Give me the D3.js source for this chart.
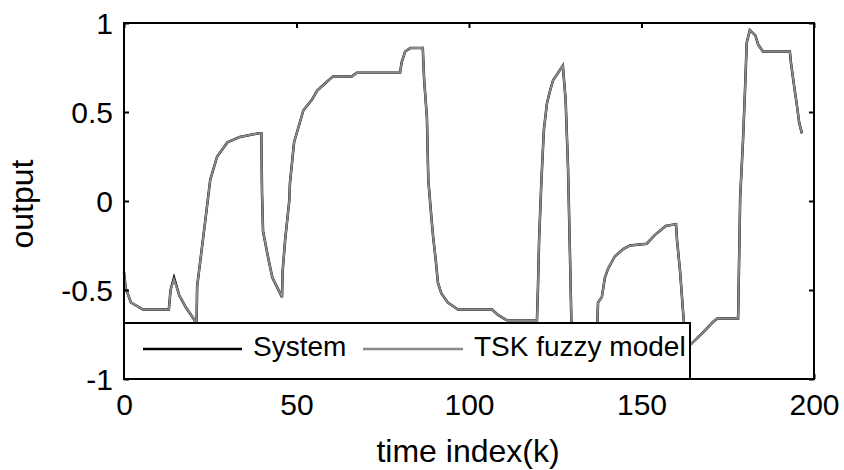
<!DOCTYPE html>
<html>
<head>
<meta charset="utf-8">
<script src="https://cdn.jsdelivr.net/npm/d3@7"></script>
<style>
  body { margin: 0; background: #fff; }
  text { font-family: "Liberation Sans", Arial, sans-serif; fill: #000; }
</style>
</head>
<body>
<div id="graph"></div>
<script>
// time index of the points
var timeK = [0, 0.5, 2, 5.5, 13, 13.5, 14.5, 16, 18, 20.5, 21, 21.2, 23.5, 25, 27, 30, 33.6, 39, 39.8,
  40, 40.3, 41.8, 43, 45.8, 46, 46.7, 47.9, 48.1, 49.3, 50.5, 52, 54.5, 56, 58.8, 60.6, 66, 67.5,
  80, 80.5, 81.5, 83, 86.6, 87, 87.8, 88.2, 89, 89.6, 90.4, 91, 92, 93.8, 96.8, 106.7, 108.4, 111,
  119.7, 120, 120.3, 121, 121.7, 122.6, 123.5, 124.4, 125.8, 127.2, 128, 128.7, 129.3, 129.8, 137,
  137.4, 138.5, 139.4, 140.3, 142.3, 144.7, 146.7, 151.5, 153.9, 157, 160, 160.3, 161.2, 162, 163,
  164, 167.8, 170.7, 172, 178, 178.6, 179.4, 180, 180.5, 181.4, 183, 183.8, 185.2, 188.7, 193,
  193.3, 194, 194.5, 195.1, 195.7, 196.5];

// System output
var systemOut = [-0.40, -0.49, -0.57, -0.61, -0.61, -0.50, -0.43, -0.53, -0.60, -0.67, -0.72, -0.48,
  -0.12, 0.12, 0.25, 0.33, 0.36, 0.38, 0.38, 0.05, -0.17, -0.32, -0.43, -0.54, -0.39, -0.22, 0.00,
  0.10, 0.33, 0.41, 0.51, 0.57, 0.62, 0.67, 0.70, 0.70, 0.72, 0.72, 0.78, 0.84, 0.86, 0.86, 0.68,
  0.47, 0.12, -0.07, -0.20, -0.34, -0.46, -0.52, -0.57, -0.61, -0.61, -0.64, -0.67, -0.67, -0.48,
  -0.23, 0.12, 0.40, 0.55, 0.62, 0.68, 0.72, 0.76, 0.57, 0.19, -0.33, -0.80, -0.80, -0.57, -0.54,
  -0.43, -0.38, -0.31, -0.27, -0.25, -0.24, -0.19, -0.14, -0.13, -0.22, -0.40, -0.61, -0.85, -0.81,
  -0.74, -0.68, -0.66, -0.66, 0.02, 0.33, 0.62, 0.89, 0.96, 0.93, 0.88, 0.84, 0.84, 0.84, 0.78,
  0.68, 0.61, 0.53, 0.44, 0.38];

// TSK fuzzy model output
var modelOut = [-0.40, -0.49, -0.57, -0.61, -0.61, -0.50, -0.44, -0.53, -0.60, -0.67, -0.72, -0.48,
  -0.12, 0.12, 0.25, 0.33, 0.36, 0.38, 0.38, 0.05, -0.17, -0.32, -0.43, -0.54, -0.39, -0.22, 0.00,
  0.10, 0.33, 0.41, 0.51, 0.57, 0.62, 0.67, 0.70, 0.70, 0.72, 0.72, 0.78, 0.84, 0.86, 0.86, 0.68,
  0.47, 0.12, -0.07, -0.20, -0.34, -0.46, -0.52, -0.57, -0.61, -0.61, -0.64, -0.67, -0.67, -0.48,
  -0.23, 0.12, 0.40, 0.55, 0.62, 0.68, 0.72, 0.76, 0.57, 0.19, -0.33, -0.80, -0.80, -0.57, -0.54,
  -0.43, -0.38, -0.31, -0.27, -0.25, -0.24, -0.19, -0.14, -0.13, -0.22, -0.40, -0.61, -0.85, -0.81,
  -0.74, -0.68, -0.66, -0.66, 0.02, 0.33, 0.62, 0.89, 0.96, 0.93, 0.88, 0.84, 0.84, 0.84, 0.78,
  0.68, 0.61, 0.53, 0.44, 0.38];

var xTicks = [0, 50, 100, 150, 200];
var yTicks = [-1, -0.5, 0, 0.5, 1];
var legendNames = ["System", "TSK fuzzy model"];

function render() {
  var width = 844, height = 470;
  // plot box in pixels (names avoid window.top)
  var pL = 124, pR = 814, pT = 23, pB = 379;

  var svg = d3.select("#graph").append("svg")
    .attr("width", width)
    .attr("height", height);

  var x = d3.scaleLinear().domain([0, 200]).range([pL, pR]);
  var y = d3.scaleLinear().domain([-1, 1]).range([pB, pT]);

  var line = d3.line()
    .x(function(d) { return x(d[0]); })
    .y(function(d) { return y(d[1]); });

  var sysData = timeK.map(function(k, i) { return [k, systemOut[i]]; });
  var tskData = timeK.map(function(k, i) { return [k, modelOut[i]]; });

  svg.append("path").datum(sysData)
    .attr("d", line)
    .attr("fill", "none")
    .attr("stroke", "#000")
    .attr("stroke-width", 2.5);

  svg.append("path").datum(tskData)
    .attr("d", line)
    .attr("fill", "none")
    .attr("stroke", "#8a8a8a")
    .attr("stroke-width", 2);

  // axes, ticks pointing inward like matlab
  var fmt = function(d) { return d; };
  var gx = svg.append("g")
    .attr("transform", "translate(0," + pB + ")")
    .call(d3.axisBottom(x).tickValues(xTicks).tickFormat(fmt).tickSizeInner(-5).tickSizeOuter(0).tickPadding(15));
  var gy = svg.append("g")
    .attr("transform", "translate(" + pL + ",0)")
    .call(d3.axisLeft(y).tickValues(yTicks).tickFormat(fmt).tickSizeInner(-5).tickSizeOuter(0).tickPadding(11));
  var gt = svg.append("g")
    .attr("transform", "translate(0," + pT + ")")
    .call(d3.axisTop(x).tickValues(xTicks).tickFormat("").tickSizeInner(-5).tickSizeOuter(0));
  var gr = svg.append("g")
    .attr("transform", "translate(" + pR + ",0)")
    .call(d3.axisRight(y).tickValues(yTicks).tickFormat("").tickSizeInner(-5).tickSizeOuter(0));

  [gx, gy, gt, gr].forEach(function(g) {
    g.select(".domain").remove();
    g.selectAll(".tick line").attr("stroke", "#000").attr("stroke-width", 2);
    g.selectAll("text")
      .style("font-family", '"Liberation Sans", Arial, sans-serif')
      .style("font-size", "30px")
      .attr("fill", "#000");
  });
  gy.selectAll("text").attr("dy", "0.36em");

  svg.append("rect")
    .attr("x", pL).attr("y", pT)
    .attr("width", pR - pL).attr("height", pB - pT)
    .attr("fill", "none").attr("stroke", "#000").attr("stroke-width", 2);

  // legend box over the plot
  var lg = svg.append("g");
  lg.append("rect")
    .attr("x", pL).attr("y", 323)
    .attr("width", 690 - pL).attr("height", pB - 323)
    .attr("fill", "#fff").attr("stroke", "#000").attr("stroke-width", 2);
  var legendItems = [
    { name: legendNames[0], color: "#000", x1: 143, x2: 242, tx: 253 },
    { name: legendNames[1], color: "#8a8a8a", x1: 363, x2: 463, tx: 474 }
  ];
  legendItems.forEach(function(it) {
    lg.append("line")
      .attr("x1", it.x1).attr("x2", it.x2)
      .attr("y1", 349).attr("y2", 349)
      .attr("stroke", it.color).attr("stroke-width", 2.5);
    lg.append("text")
      .attr("x", it.tx).attr("y", 356)
      .style("font-size", "28px")
      .text(it.name);
  });

  svg.append("text")
    .attr("x", 468).attr("y", 462)
    .attr("text-anchor", "middle")
    .style("font-size", "32px")
    .text("time index(k)");

  svg.append("text")
    .attr("transform", "translate(33,204) rotate(-90)")
    .attr("text-anchor", "middle")
    .style("font-size", "32px")
    .text("output");
}

render();
</script>
</body>
</html>
